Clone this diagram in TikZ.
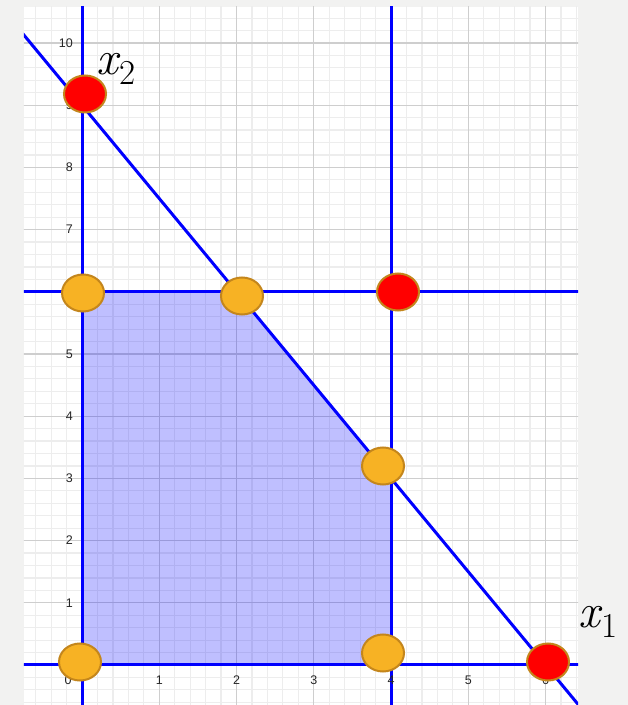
\documentclass[tikz,border=0pt]{standalone}
\usepackage{fontspec}
\newfontfamily\tickfont{Liberation Sans}
\usetikzlibrary{shapes.geometric}
\definecolor{bgcol}{RGB}{242,242,241}
\definecolor{minorcol}{RGB}{237,237,237}
\definecolor{majorcol}{RGB}{206,206,206}
\definecolor{orangefill}{RGB}{247,178,36}
\definecolor{rimcol}{RGB}{196,134,28}
\definecolor{redfill}{RGB}{255,0,0}
\newcommand{\axvar}[1]{{\fontsize{48}{52}\selectfont\itshape x}\kern2pt\raisebox{-10pt}{\fontsize{35}{38}\selectfont #1}}
\tikzset{
  minorgrid/.style={draw=minorcol, line width=1.2pt},
  majorgrid/.style={draw=majorcol, line width=1.3pt},
  bline/.style={draw=blue, line width=3pt},
  feasible/.style={fill=blue, fill opacity=0.25},
  ticklab/.style={font=\tickfont\fontsize{12.5}{14}\selectfont, text=black!85, inner sep=0pt},
  vertexbase/.style={ellipse, draw=rimcol, line width=2pt, minimum width=42pt, minimum height=37pt, inner sep=0pt},
  okpt/.style={vertexbase, fill=orangefill},
  badpt/.style={vertexbase, fill=redfill},
  axlabel/.style={inner sep=0pt, draw=none, text=black}
}
\begin{document}
\begin{tikzpicture}[x=1pt,y=1pt]
\useasboundingbox (0,0) rectangle (628,705);
\fill[bgcol] (0,0) rectangle (628,705);
\fill[white] (24,0) rectangle (578,698);
\begin{scope}[shift={(82,40)}, x=77.25pt, y=62.2pt]
  \begin{scope}
    \clip (-0.751,-0.643) rectangle (6.421,10.579);
    \foreach \i in {-4,...,33} \draw[minorgrid] (\i/5,-1) -- (\i/5,11);
    \foreach \j in {-4,...,54} \draw[minorgrid] (-1,\j/5) -- (7,\j/5);
    \foreach \i in {-1,...,6} \draw[majorgrid] (\i,-1) -- (\i,11);
    \foreach \j in {-1,...,10} \draw[majorgrid] (-1,\j) -- (7,\j);
    \fill[feasible] (0,0) -- (0,6) -- (2,6) -- (4,3) -- (4,0) -- cycle;
    \draw[bline] (0,-1) -- (0,11);
    \draw[bline] (4,-1) -- (4,11);
    \draw[bline] (-1,6) -- (7,6);
    \draw[bline] (-1,0) -- (7,0);
    \draw[bline] (-1,10.5) -- (7,-1.5);
  \end{scope}
  \foreach \j in {1,...,10} \node[ticklab, anchor=east] (ty\j) at (-0.117,\j) {\j};
  \foreach \i in {1,...,6} \node[ticklab] (tx\i) at (\i,-0.241) {\i};
  \node[ticklab] (tx0) at (-0.18,-0.241) {0};
\end{scope}
\node[badpt] (r1) at (85,611) {};
\node[okpt] (o1) at (83,412) {};
\node[okpt] (o2) at (242,409) {};
\node[badpt] (r2) at (398,413) {};
\node[okpt] (o3) at (383,239) {};
\node[okpt] (o4) at (80,43) {};
\node[okpt] (o5) at (383,52) {};
\node[badpt] (r3) at (548,43) {};
\node[axlabel] (lx2) at (116,636) {\axvar{2}};
\node[axlabel] (lx1) at (598,83) {\axvar{1}};
\end{tikzpicture}
\end{document}
